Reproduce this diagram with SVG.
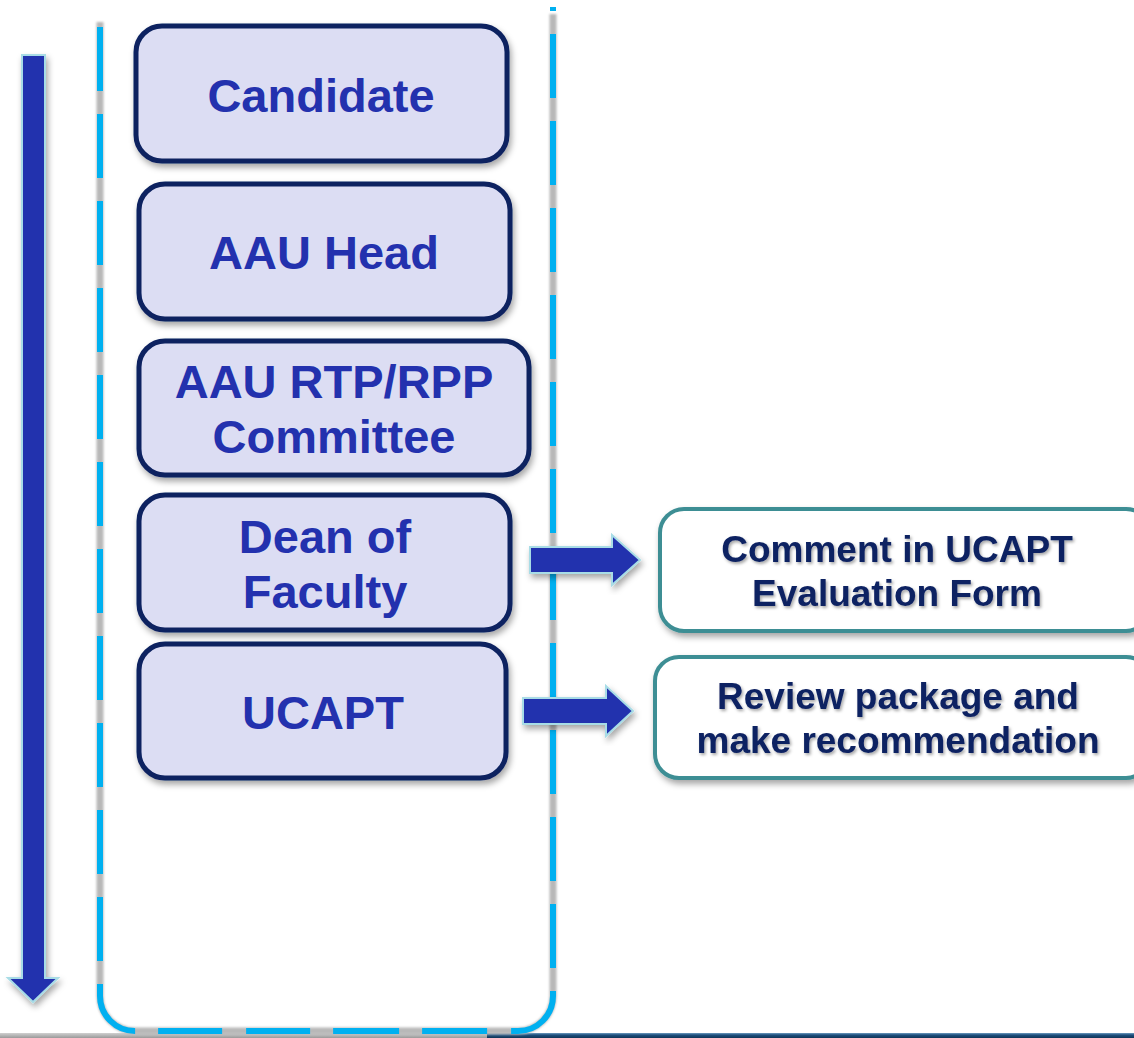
<svg xmlns="http://www.w3.org/2000/svg" width="1134" height="1038" viewBox="0 0 1134 1038">
<defs>
<filter id="sh" x="-10%" y="-10%" width="130%" height="130%"><feDropShadow dx="2" dy="4" stdDeviation="3" flood-color="#000" flood-opacity="0.35"/></filter>
<filter id="tsh" x="-5%" y="-20%" width="110%" height="150%"><feDropShadow dx="1.5" dy="2" stdDeviation="1.5" flood-color="#000" flood-opacity="0.35"/></filter>
<filter id="blur" x="-50%" y="-5%" width="200%" height="110%"><feGaussianBlur stdDeviation="1.2"/></filter>
<linearGradient id="bar" x1="0" y1="0" x2="0" y2="1"><stop offset="0" stop-color="#6f9cc0"/><stop offset="0.4" stop-color="#1d4f7e"/><stop offset="1" stop-color="#0f3556"/></linearGradient>
<linearGradient id="gbar" x1="0" y1="0" x2="0" y2="1"><stop offset="0" stop-color="#d0d0d0"/><stop offset="1" stop-color="#9a9a9a"/></linearGradient>
</defs>
<style>
.node{fill:#DCDDF3;stroke:#0D2260;stroke-width:5}
.out{fill:#FFFFFF;stroke:#3E8E94;stroke-width:4}
.lbl{font-family:"Liberation Sans",Arial,sans-serif;font-weight:bold;font-size:47px;fill:#2331AE;text-anchor:middle}
.olbl{font-family:"Liberation Sans",Arial,sans-serif;font-weight:bold;font-size:37px;fill:#0E2262;text-anchor:middle}
.arr{fill:#2330AE;stroke:#A8DCE6;stroke-width:2}
.dash{fill:none;stroke:#00B0F0;stroke-width:6}
</style>
<rect x="0" y="1033" width="487" height="5" fill="url(#gbar)"/>
<rect x="487" y="1033" width="647" height="5" fill="url(#bar)"/>
<g id="container">
<path d="M553,14 L553,996 A35,35 0 0 1 518,1031 L135,1031 A35,35 0 0 1 100,996 L100,22" fill="none" stroke="#b8b8b8" stroke-width="7" filter="url(#blur)"/>
<path class="dash" d="M100,27 L100,984" stroke-dasharray="64 23"/>
<path class="dash" d="M553,7 L553,968" stroke-dasharray="64 23" stroke-dashoffset="60"/>
<path class="dash" d="M100,984 L100,996 A35,35 0 0 0 135,1031 L518,1031 A35,35 0 0 0 553,996 L553,991" stroke-dasharray="67 23 64 24 64 23 66 23 65 24 300"/>
</g>
<g id="connectors">
<path class="arr" filter="url(#sh)" d="M22,55 L45,55 L45,978 L58,978 L33,1002 L8,978 L22,978 Z"/>
<path class="arr" filter="url(#sh)" d="M530,547 L612,547 L612,535 L640,560 L612,585 L612,573 L530,573 Z"/>
<path class="arr" filter="url(#sh)" d="M523,698 L606,698 L606,686 L633,711 L606,736 L606,724 L523,724 Z"/>
</g>
<g id="candidate">
<rect class="node" filter="url(#sh)" x="136" y="26" width="371" height="135" rx="26"/>
<text class="lbl" x="321" y="112">Candidate</text>
</g>
<g id="aau-head">
<rect class="node" filter="url(#sh)" x="139" y="184" width="371" height="135" rx="26"/>
<text class="lbl" x="324" y="269">AAU Head</text>
</g>
<g id="aau-committee">
<rect class="node" filter="url(#sh)" x="139" y="341" width="390" height="134" rx="26"/>
<text class="lbl" x="334" y="398">AAU RTP/RPP</text>
<text class="lbl" x="334" y="453">Committee</text>
</g>
<g id="dean">
<rect class="node" filter="url(#sh)" x="139" y="495" width="371" height="135" rx="26"/>
<text class="lbl" x="325" y="553">Dean of</text>
<text class="lbl" x="325" y="608">Faculty</text>
</g>
<g id="ucapt">
<rect class="node" filter="url(#sh)" x="139" y="644" width="367" height="134" rx="26"/>
<text class="lbl" x="323" y="729">UCAPT</text>
</g>
<g id="comment">
<rect class="out" filter="url(#sh)" x="660" y="509" width="490" height="122" rx="24"/>
<text class="olbl" filter="url(#tsh)" x="897" y="562">Comment in UCAPT</text>
<text class="olbl" filter="url(#tsh)" x="897" y="606">Evaluation Form</text>
</g>
<g id="review">
<rect class="out" filter="url(#sh)" x="655" y="657" width="495" height="121" rx="24"/>
<text class="olbl" filter="url(#tsh)" x="898" y="709">Review package and</text>
<text class="olbl" filter="url(#tsh)" x="898" y="753">make recommendation</text>
</g>
</svg>
